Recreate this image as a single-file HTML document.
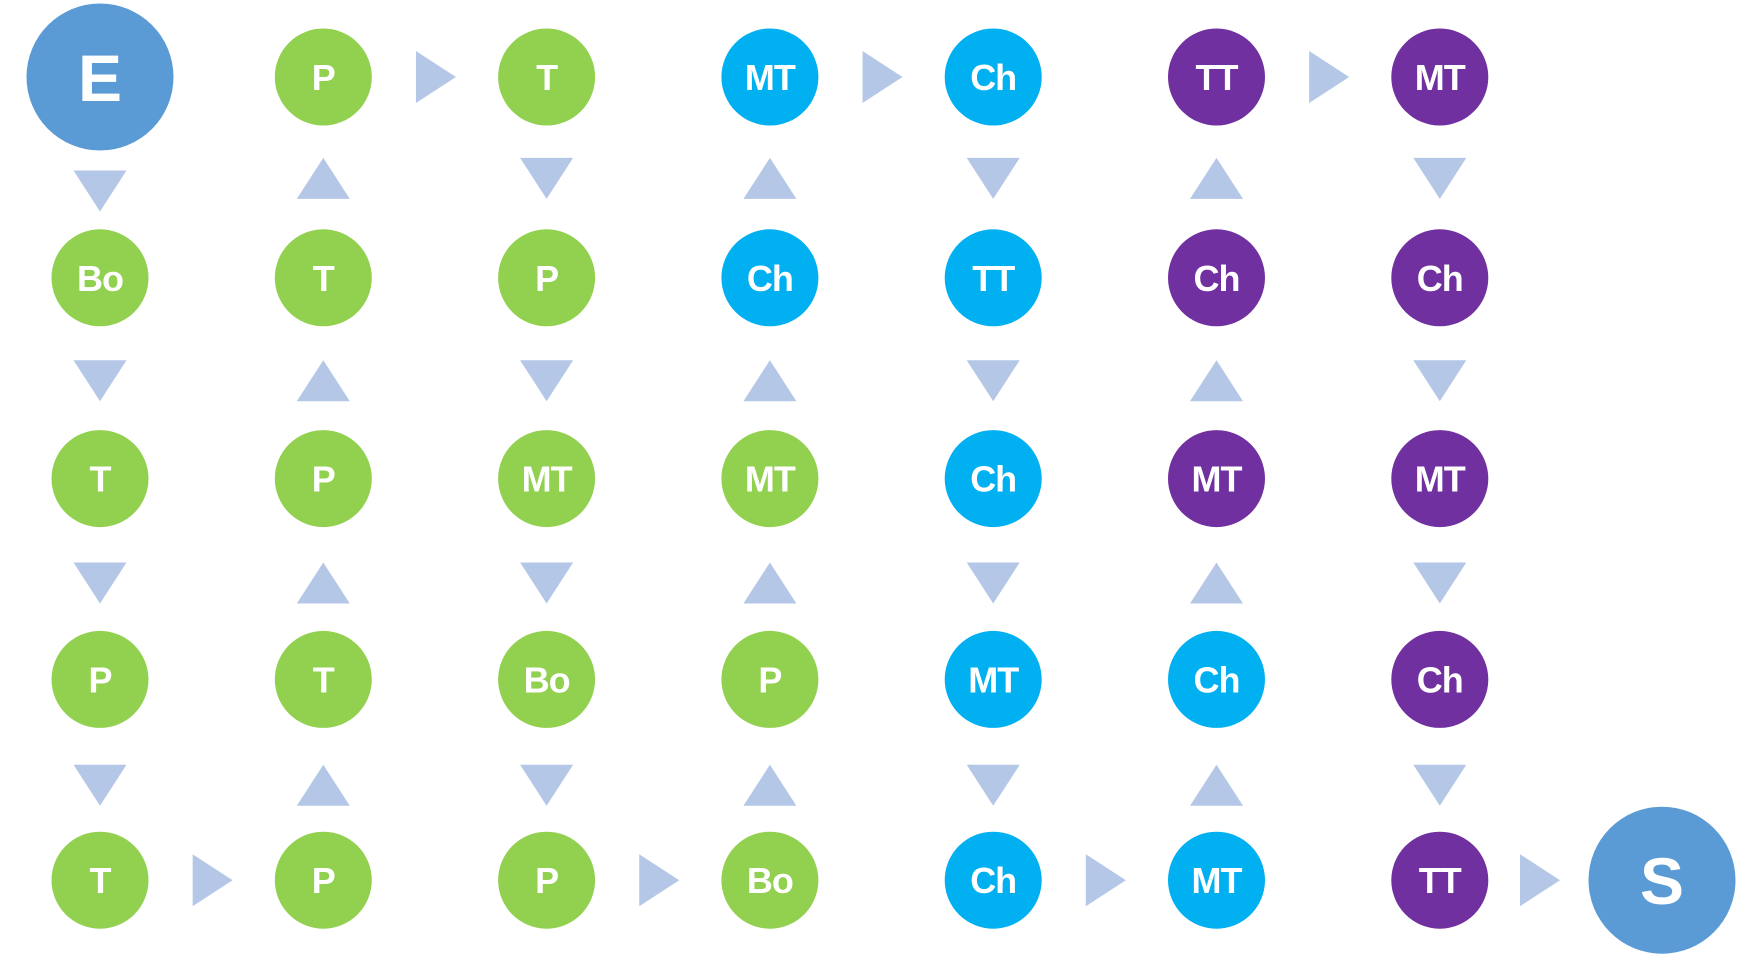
<!DOCTYPE html>
<html><head><meta charset="utf-8"><style>
html,body{margin:0;padding:0;background:#fff}
svg{display:block}
text{font-family:"Liberation Sans",sans-serif;font-weight:bold;fill:#fff}
</style></head><body>
<svg id="d" width="1762" height="973" viewBox="0 0 1762 973"></svg>
<script>
const labels=[["E","Bo","T","P","T"],["P","T","P","T","P"],["T","P","MT","Bo","P"],["MT","Ch","MT","P","Bo"],["Ch","TT","Ch","MT","Ch"],["TT","Ch","MT","Ch","MT"],["MT","Ch","MT","Ch","TT"]];
const colors=[["b","g","g","g","g"],["g","g","g","g","g"],["g","g","g","g","g"],["c","c","g","g","g"],["c","c","c","c","c"],["p","p","p","c","c"],["p","p","p","p","p"]];
const dirs=["down","up","down","up","down","up","down"];
const topArrows=[1,3,5];
const bottomArrows=[0,2,4,6];
const pal={g:"#92D050",c:"#00B0F0",p:"#7030A0",b:"#5B9BD5"};
const colX=c=>100+c*223.3;
const rowY=r=>77+r*200.8;
const svg=document.getElementById('d');const NS="http://www.w3.org/2000/svg";
function mk(t,a){const e=document.createElementNS(NS,t);for(const k in a)e.setAttribute(k,a[k]);svg.appendChild(e);return e;}
function node(x,y,lab,col,big){
 const g=mk('circle',{cx:x,cy:y,r:big?73.5:48.5,fill:pal[col]});
 
 
 const t=mk('text',{x:x,y:y+(big?24:13),'text-anchor':'middle','font-size':big?66:36,'letter-spacing':big?0:-1});
 t.textContent=lab;
 
 
}
for(let c=0;c<7;c++)for(let r=0;r<5;r++)node(colX(c),rowY(r),labels[c][r],colors[c][r],c==0&&r==0);
node(1662,rowY(4),"S","b",true);
function vArrow(x,y,down){
 const p=down?`${x-26.5},${y-20.5} ${x+26.5},${y-20.5} ${x},${y+20.5}`:`${x-26.5},${y+20.5} ${x+26.5},${y+20.5} ${x},${y-20.5}`;
 const a=mk('polygon',{points:p,fill:"#B4C7E7"});
 
 
}
function hArrow(x,y){
 const a=mk('polygon',{points:`${x-20},${y-26} ${x+20},${y} ${x-20},${y+26}`,fill:"#B4C7E7"});
 
 
}
for(let c=0;c<7;c++)for(let r=0;r<4;r++){
 let y=(rowY(r)+rowY(r+1))/2+1+r*1.5;
 if(c==0&&r==0)y=191;
 vArrow(colX(c),y,dirs[c]=="down");
}
topArrows.forEach(c=>hArrow((colX(c)+colX(c+1))/2+1,rowY(0)));
bottomArrows.forEach(c=>hArrow(c==6?1540:(colX(c)+colX(c+1))/2+1,rowY(4)));
</script>
</body></html>
